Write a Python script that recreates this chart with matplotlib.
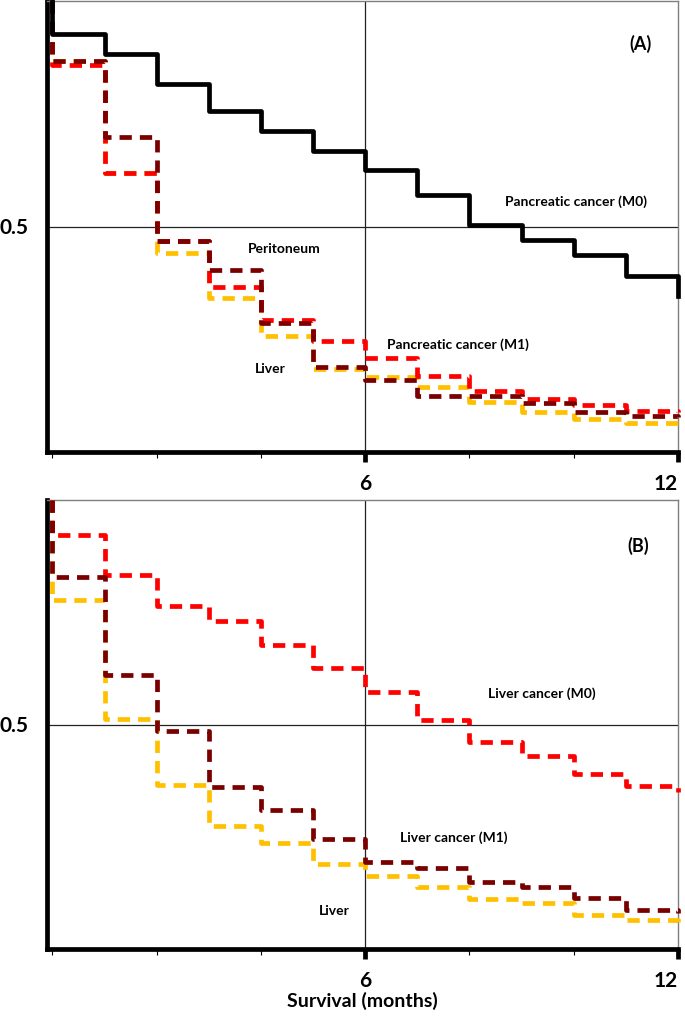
import matplotlib
matplotlib.use("Agg")
import matplotlib.pyplot as plt
from matplotlib.ticker import FixedLocator

plt.rcParams['font.family'] = ['Lato', 'DejaVu Sans']

# time points (months); first duplicated 0 gives the initial drop from 1.0
months = [0, 0, 1, 2, 3, 4, 5, 6, 7, 8, 9, 10, 11, 12]

# Panel A: pancreatic cancer
panc_m0 = [1.0, 0.927, 0.882, 0.816, 0.757, 0.711, 0.667, 0.625, 0.569, 0.504, 0.471, 0.436, 0.390, 0.347]
panc_m1 = [1.0, 0.858, 0.619, 0.467, 0.365, 0.292, 0.246, 0.209, 0.169, 0.136, 0.117, 0.104, 0.091, 0.088]
panc_perit = [1.0, 0.867, 0.699, 0.467, 0.403, 0.286, 0.189, 0.159, 0.125, 0.125, 0.108, 0.089, 0.080, 0.078]
panc_liver = [1.0, 0.867, 0.619, 0.442, 0.341, 0.257, 0.184, 0.167, 0.144, 0.111, 0.089, 0.073, 0.064, 0.055]

# Panel B: liver cancer
liver_m0 = [1.0, 0.922, 0.833, 0.763, 0.730, 0.676, 0.626, 0.573, 0.510, 0.460, 0.429, 0.390, 0.364, 0.349]
liver_m1 = [1.0, 0.829, 0.610, 0.485, 0.360, 0.310, 0.245, 0.193, 0.181, 0.150, 0.138, 0.113, 0.087, 0.080]
liver_liver = [1.0, 0.777, 0.513, 0.366, 0.275, 0.236, 0.189, 0.163, 0.138, 0.111, 0.102, 0.076, 0.065, 0.060]

x_major = [6, 12]
x_minor = [0, 2, 4, 8, 10]
y_ticks = [0.5]

RED = '#FF0000'
MAROON = '#7A0000'
GOLD = '#FFC000'
LW = 3.4
DASH = (0, (2.6, 1.7))

fig = plt.figure(figsize=(6.85, 10.23), dpi=100)
W, H = 685, 1023

def make_ax(top_px, bot_px):
    left, right = 47, 678
    ax = fig.add_axes([left / W, 1 - bot_px / H, (right - left) / W, (bot_px - top_px) / H])
    ax.set_xlim(-0.105, 12.0)
    ax.set_ylim(0, 1)
    for s in ['left', 'bottom']:
        ax.spines[s].set_linewidth(3.4)
        ax.spines[s].set_color('black')
    for s in ['top', 'right']:
        ax.spines[s].set_linewidth(1.0)
        ax.spines[s].set_color('#7f7f7f')
    ax.xaxis.set_major_locator(FixedLocator(x_major))
    ax.xaxis.set_minor_locator(FixedLocator(x_minor))
    ax.set_xticklabels([str(v) for v in x_major])
    ax.yaxis.set_major_locator(FixedLocator(y_ticks))
    ax.yaxis.set_minor_locator(FixedLocator([]))
    ax.set_yticklabels(['0.5'])
    ax.tick_params(axis='x', which='major', length=7, width=3.4, direction='out',
                   labelsize=15, pad=9)
    ax.tick_params(axis='x', which='minor', length=4, width=0.8, direction='out')
    ax.tick_params(axis='y', which='major', length=0, labelsize=15, pad=13)
    labs = ax.get_xticklabels()
    for lab in labs + ax.get_yticklabels():
        lab.set_fontweight('bold')
    labs[-1].set_horizontalalignment('right')
    ax.axvline(6, color='#222222', lw=0.9, zorder=1)
    ax.axhline(0.5, color='#222222', lw=0.9, zorder=1)
    return ax

# Panel A
axA = make_ax(1, 452)
axA.step(months, panc_liver, where='post', color=GOLD, lw=LW, ls=DASH, clip_on=False, zorder=3)
axA.step(months, panc_m1, where='post', color=RED, lw=LW, ls=DASH, clip_on=False, zorder=4)
axA.step(months, panc_perit, where='post', color=MAROON, lw=LW, ls=DASH, clip_on=False, zorder=5)
axA.step(months, panc_m0, where='post', color='black', lw=LW, clip_on=False, zorder=6)
tk = dict(fontsize=10, fontweight='bold', ha='center', va='center')
pk = dict(fontsize=13, fontweight='bold', ha='center', va='center')
axA.text(11.28, 0.905, '(A)', **pk)
axA.text(10.05, 0.556, 'Pancreatic cancer (M0)', **tk)
axA.text(4.44, 0.451, 'Peritoneum', **tk)
axA.text(7.78, 0.237, 'Pancreatic cancer (M1)', **tk)
axA.text(4.17, 0.184, 'Liver', **tk)

# Panel B
axB = make_ax(500, 949)
axB.step(months, liver_liver, where='post', color=GOLD, lw=LW, ls=DASH, clip_on=False, zorder=3)
axB.step(months, liver_m0, where='post', color=RED, lw=LW, ls=DASH, clip_on=False, zorder=4)
axB.step(months, liver_m1, where='post', color=MAROON, lw=LW, ls=DASH, clip_on=False, zorder=5)
axB.text(11.24, 0.897, '(B)', **pk)
axB.text(9.38, 0.569, 'Liver cancer (M0)', **tk)
axB.text(7.70, 0.249, 'Liver cancer (M1)', **tk)
axB.text(5.40, 0.085, 'Liver', **tk)

fig.text(362 / W, 1 - 1001 / H, 'Survival (months)', fontsize=14, fontweight='bold',
         ha='center', va='center')

fig.savefig('out.png', dpi=100)
